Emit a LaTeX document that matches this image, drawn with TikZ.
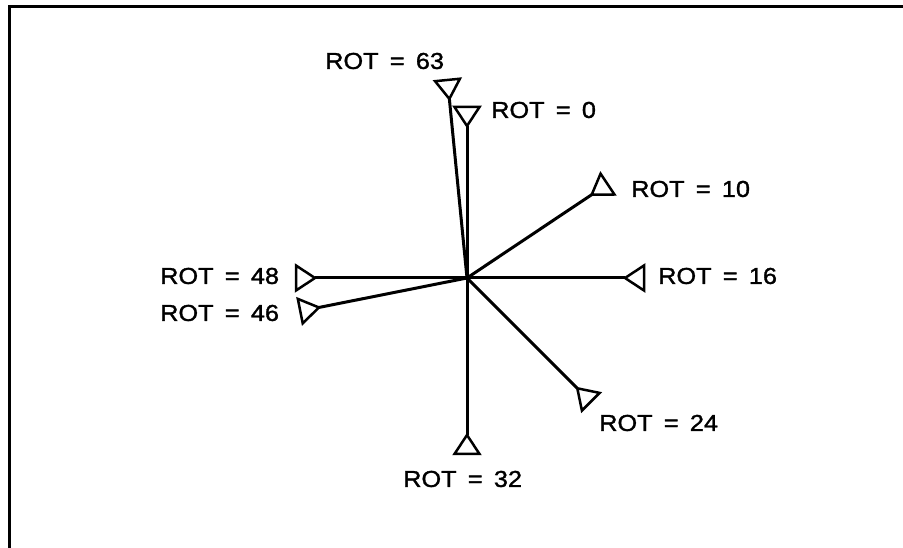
\documentclass[tikz,border=0pt]{standalone}
\usepackage{fontspec}
\setmainfont{Liberation Sans}[FakeStretch=1.1, FakeBold=1.4, WordSpace=1.6]
\usetikzlibrary{calc}
\tikzset{
  frame/.style={line width=3pt, line cap=rect},
  spoke/.style={line width=3pt},
  marker/.style={line width=2.5pt, line join=miter, fill=white},
  rotlabel/.style={anchor=west, inner sep=0pt, font=\fontsize{23}{27}\selectfont}
}
\begin{document}
\begin{tikzpicture}[x=1pt,y=1pt]
\useasboundingbox (0,0) rectangle (903,548);

% ------------------------------------------------------------------
% frame
% ------------------------------------------------------------------
\draw[frame] (9,0) -- (9,541) -- (903,541);

% ------------------------------------------------------------------
% spokes, one per rotation value (64 steps per turn)
% ------------------------------------------------------------------
\coordinate (o) at (467,270);
\coordinate (e0)  at ($(o)+(90:152)$);
\coordinate (e10) at ($(o)+(33.75:150)$);
\coordinate (e16) at ($(o)+(0:158)$);
\coordinate (e24) at ($(o)+(-45:156)$);
\coordinate (e32) at ($(o)+(-90:157)$);
\coordinate (e46) at ($(o)+(-168.75:151)$);
\coordinate (e48) at ($(o)+(180:152)$);
\coordinate (e63) at ($(o)+(95.625:180)$);

\draw[spoke] (o) -- (e0);
\draw[spoke] (o) -- (e10);
\draw[spoke] (o) -- (e16);
\draw[spoke] (o) -- (e24);
\draw[spoke] (o) -- (e32);
\draw[spoke] (o) -- (e46);
\draw[spoke] (o) -- (e48);
\draw[spoke] (o) -- (e63);

% triangle markers, tip on the spoke end
\draw[marker, shift={(e0)},  rotate=90]      (0,0) -- (19,12.5) -- (19,-12.5) -- cycle;
\draw[marker, shift={(e10)}, rotate=33.75]   (0,0) -- (19,12.5) -- (19,-12.5) -- cycle;
\draw[marker, shift={(e16)}, rotate=0]       (0,0) -- (19,12.5) -- (19,-12.5) -- cycle;
\draw[marker, shift={(e24)}, rotate=-45]     (0,0) -- (19,12.5) -- (19,-12.5) -- cycle;
\draw[marker, shift={(e32)}, rotate=-90]     (0,0) -- (19,12.5) -- (19,-12.5) -- cycle;
\draw[marker, shift={(e46)}, rotate=-168.75] (0,0) -- (19,12.5) -- (19,-12.5) -- cycle;
\draw[marker, shift={(e48)}, rotate=180]     (0,0) -- (19,12.5) -- (19,-12.5) -- cycle;
\draw[marker, shift={(e63)}, rotate=95.625]  (0,0) -- (19,12.5) -- (19,-12.5) -- cycle;

% ------------------------------------------------------------------
% labels
% ------------------------------------------------------------------
\node[rotlabel] (lbl63) at (325,487) {ROT = 63};
\node[rotlabel] (lbl0)  at (491,438) {ROT = 0};
\node[rotlabel] (lbl10) at (631,359) {ROT = 10};
\node[rotlabel] (lbl16) at (658,272) {ROT = 16};
\node[rotlabel] (lbl48) at (160,272) {ROT = 48};
\node[rotlabel] (lbl46) at (160,235) {ROT = 46};
\node[rotlabel] (lbl24) at (599,125) {ROT = 24};
\node[rotlabel] (lbl32) at (403,69)  {ROT = 32};

\end{tikzpicture}
\end{document}
